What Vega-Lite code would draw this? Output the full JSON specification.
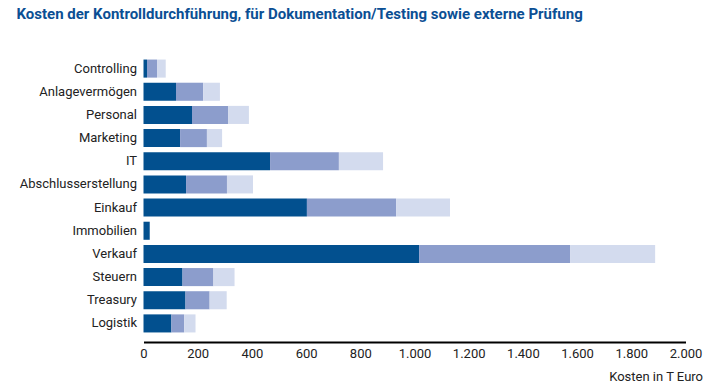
{
  "$schema": "https://vega.github.io/schema/vega-lite/v6.json",
  "autosize": {"type": "none"},
  "width": 542,
  "height": 278,
  "padding": {"left": 143.5, "top": 57, "right": 26.5, "bottom": 56},
  "background": "white",
  "title": {
    "text": "Kosten der Kontrolldurchführung, für Dokumentation/Testing sowie externe Prüfung",
    "anchor": "start",
    "frame": "group",
    "dx": -127,
    "offset": 35,
    "font": "Roboto",
    "fontSize": 15,
    "fontWeight": "bold",
    "color": "#0b4f94"
  },
  "data": {
    "values": [
      {"bereich": "Controlling", "art": "Kontrolldurchführung", "ord": 1, "wert": 13},
      {"bereich": "Controlling", "art": "Dokumentation/Testing", "ord": 2, "wert": 37},
      {"bereich": "Controlling", "art": "Externe Prüfung", "ord": 3, "wert": 32},
      {"bereich": "Anlagevermögen", "art": "Kontrolldurchführung", "ord": 1, "wert": 120},
      {"bereich": "Anlagevermögen", "art": "Dokumentation/Testing", "ord": 2, "wert": 100},
      {"bereich": "Anlagevermögen", "art": "Externe Prüfung", "ord": 3, "wert": 62},
      {"bereich": "Personal", "art": "Kontrolldurchführung", "ord": 1, "wert": 179},
      {"bereich": "Personal", "art": "Dokumentation/Testing", "ord": 2, "wert": 133},
      {"bereich": "Personal", "art": "Externe Prüfung", "ord": 3, "wert": 77},
      {"bereich": "Marketing", "art": "Kontrolldurchführung", "ord": 1, "wert": 135},
      {"bereich": "Marketing", "art": "Dokumentation/Testing", "ord": 2, "wert": 99},
      {"bereich": "Marketing", "art": "Externe Prüfung", "ord": 3, "wert": 56},
      {"bereich": "IT", "art": "Kontrolldurchführung", "ord": 1, "wert": 467},
      {"bereich": "IT", "art": "Dokumentation/Testing", "ord": 2, "wert": 254},
      {"bereich": "IT", "art": "Externe Prüfung", "ord": 3, "wert": 163},
      {"bereich": "Abschlusserstellung", "art": "Kontrolldurchführung", "ord": 1, "wert": 157},
      {"bereich": "Abschlusserstellung", "art": "Dokumentation/Testing", "ord": 2, "wert": 151},
      {"bereich": "Abschlusserstellung", "art": "Externe Prüfung", "ord": 3, "wert": 96},
      {"bereich": "Einkauf", "art": "Kontrolldurchführung", "ord": 1, "wert": 603},
      {"bereich": "Einkauf", "art": "Dokumentation/Testing", "ord": 2, "wert": 329},
      {"bereich": "Einkauf", "art": "Externe Prüfung", "ord": 3, "wert": 199},
      {"bereich": "Immobilien", "art": "Kontrolldurchführung", "ord": 1, "wert": 23},
      {"bereich": "Immobilien", "art": "Dokumentation/Testing", "ord": 2, "wert": 0},
      {"bereich": "Immobilien", "art": "Externe Prüfung", "ord": 3, "wert": 0},
      {"bereich": "Verkauf", "art": "Kontrolldurchführung", "ord": 1, "wert": 1017},
      {"bereich": "Verkauf", "art": "Dokumentation/Testing", "ord": 2, "wert": 557},
      {"bereich": "Verkauf", "art": "Externe Prüfung", "ord": 3, "wert": 314},
      {"bereich": "Steuern", "art": "Kontrolldurchführung", "ord": 1, "wert": 144},
      {"bereich": "Steuern", "art": "Dokumentation/Testing", "ord": 2, "wert": 114},
      {"bereich": "Steuern", "art": "Externe Prüfung", "ord": 3, "wert": 78},
      {"bereich": "Treasury", "art": "Kontrolldurchführung", "ord": 1, "wert": 155},
      {"bereich": "Treasury", "art": "Dokumentation/Testing", "ord": 2, "wert": 89},
      {"bereich": "Treasury", "art": "Externe Prüfung", "ord": 3, "wert": 63},
      {"bereich": "Logistik", "art": "Kontrolldurchführung", "ord": 1, "wert": 103},
      {"bereich": "Logistik", "art": "Dokumentation/Testing", "ord": 2, "wert": 47},
      {"bereich": "Logistik", "art": "Externe Prüfung", "ord": 3, "wert": 42}
    ]
  },
  "mark": {"type": "bar"},
  "encoding": {
    "y": {
      "field": "bereich",
      "type": "nominal",
      "sort": ["Controlling", "Anlagevermögen", "Personal", "Marketing", "IT", "Abschlusserstellung", "Einkauf", "Immobilien", "Verkauf", "Steuern", "Treasury", "Logistik"],
      "scale": {"paddingInner": 0.22, "paddingOuter": 0.11},
      "axis": {
        "title": null,
        "domain": false,
        "ticks": false,
        "labelPadding": 7,
        "labelFont": "Roboto",
        "labelFontSize": 13,
        "labelColor": "#222222"
      }
    },
    "x": {
      "field": "wert",
      "type": "quantitative",
      "stack": "zero",
      "scale": {"domain": [0, 2000], "nice": false},
      "axis": {
        "title": "Kosten in T Euro",
        "titleFont": "Roboto",
        "titleFontSize": 13,
        "titleFontWeight": "normal",
        "titleColor": "#222222",
        "titleAnchor": "end",
        "titleAlign": "right",
        "titleBaseline": "alphabetic",
        "titleX": 559,
        "titleY": 38,
        "values": [0, 200, 400, 600, 800, 1000, 1200, 1400, 1600, 1800, 2000],
        "labelExpr": "replace(format(datum.value, ','), ',', '.')",
        "grid": false,
        "ticks": false,
        "offset": 7,
        "domainColor": "#000000",
        "domainWidth": 2,
        "labelPadding": 5,
        "labelFont": "Roboto",
        "labelFontSize": 13,
        "labelColor": "#222222",
        "labelOverlap": false,
        "labelFlush": false
      }
    },
    "color": {
      "field": "art",
      "type": "nominal",
      "scale": {
        "domain": ["Kontrolldurchführung", "Dokumentation/Testing", "Externe Prüfung"],
        "range": ["#02508f", "#8c9dcc", "#d3dbee"]
      },
      "legend": null
    },
    "order": {"field": "ord", "type": "quantitative"}
  },
  "config": {"view": {"stroke": null}}
}
